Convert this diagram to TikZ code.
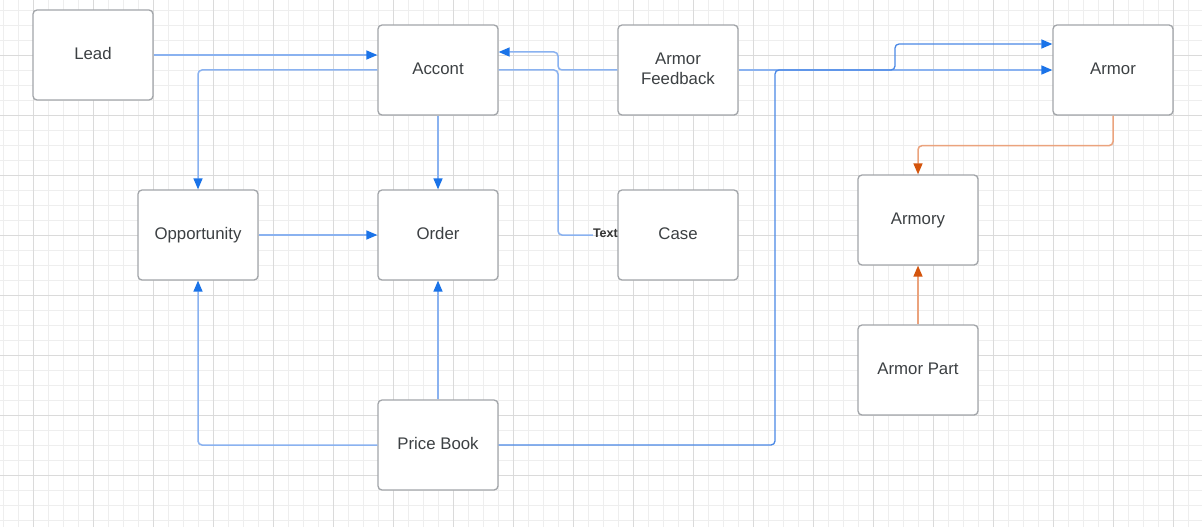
\documentclass[tikz,border=0pt]{standalone}
\usepackage{fontspec}
\setmainfont{Liberation Sans}
\usetikzlibrary{arrows.meta}
\definecolor{gridminor}{HTML}{EEEEEE}
\definecolor{gridmajor}{HTML}{DADADA}
\definecolor{boxline}{HTML}{A2A5A9}
\definecolor{txt}{HTML}{3C4043}
\definecolor{blueline}{HTML}{8AB2F0}
\definecolor{bluedark}{HTML}{4A88E6}
\definecolor{bluehead}{HTML}{1A73E8}
\definecolor{orline}{HTML}{EBA37D}
\definecolor{orhead}{HTML}{D4540C}
\tikzset{
  ent/.style={draw=boxline, line width=1.3pt, fill=white, rounded corners=4pt,
    minimum width=120pt, minimum height=90pt, inner sep=0pt, text=txt,
    font=\fontsize{16.8}{20}\selectfont, align=center, text depth=3pt},
  conn/.style={draw=blueline, line width=1.5pt, rounded corners=4pt},
  connd/.style={draw=bluedark, line width=1.3pt, rounded corners=4pt},
  arr/.style={-{Triangle[length=11pt,width=9pt,color=bluehead]}},
  oconn/.style={draw=orline, line width=1.5pt, rounded corners=4pt,
    -{Triangle[length=11pt,width=9pt,color=orhead]}},
}
\begin{document}
\begin{tikzpicture}[x=1pt,y=-1pt]
\useasboundingbox (0,0) rectangle (1202,527);
\fill[white] (0,0) rectangle (1202,527);
% grid
\foreach \x in {3,18,...,1202} \draw[gridminor, line width=0.8pt] (\x,0) -- (\x,527);
\foreach \y in {10,25,...,527} \draw[gridminor, line width=0.8pt] (0,\y) -- (1202,\y);
\foreach \x in {33,93,...,1202} \draw[gridmajor, line width=0.9pt] (\x,0) -- (\x,527);
\foreach \y in {55,115,...,527} \draw[gridmajor, line width=0.9pt] (0,\y) -- (1202,\y);
% nodes
\node[ent] (lead) at (93,55) {Lead};
\node[ent] (accont) at (438,70) {Accont};
\node[ent] (af) at (678,70) {Armor\\Feedback};
\node[ent] (armor) at (1113,70) {Armor};
\node[ent] (opp) at (198,235) {Opportunity};
\node[ent] (order) at (438,235) {Order};
\node[ent] (case) at (678,235) {Case};
\node[ent] (armory) at (918,220) {Armory};
\node[ent] (ap) at (918,370) {Armor Part};
\node[ent] (pb) at (438,445) {Price Book};
\node[anchor=east, inner sep=0pt, font=\fontsize{12.5}{14}\selectfont\bfseries, text=black!80] (lbl) at (618,233) {Text};
% bend points
\coordinate (j1) at (558,70);
\coordinate (p1) at (775,445);
\coordinate (p2) at (775,70);
\coordinate (p3) at (895,70);
\coordinate (p4) at (895,44);
% connectors
\draw[conn,arr] (lead.east) -- (lead.east -| accont.west);
\draw[conn,arr] (accont.west) -| (opp.north);
\draw[conn,arr] (accont.south) -- (order.north);
\draw[conn,arr] (opp.east) -- (order.west);
\draw[conn,arr] (pb.west) -| (opp.south);
\draw[conn,arr] (pb.north) -- (order.south);
\draw[conn,arr] (af.west) -- (j1) |- ([yshift=18pt]accont.east);
\draw[conn] (accont.east) -- (j1) |- ([yshift=-2pt]lbl.west);
\draw[conn,arr] (af.east) -- (armor.west);
\draw[connd,arr] (pb.east) -- (p1) -- (p2) -- (p3) -- (p4) -- (p4 -| armor.west);
\draw[oconn] (armor.south) -- ++(0,30) -| (armory.north);
\draw[oconn] (ap.north) -- (armory.south);
\end{tikzpicture}
\end{document}
